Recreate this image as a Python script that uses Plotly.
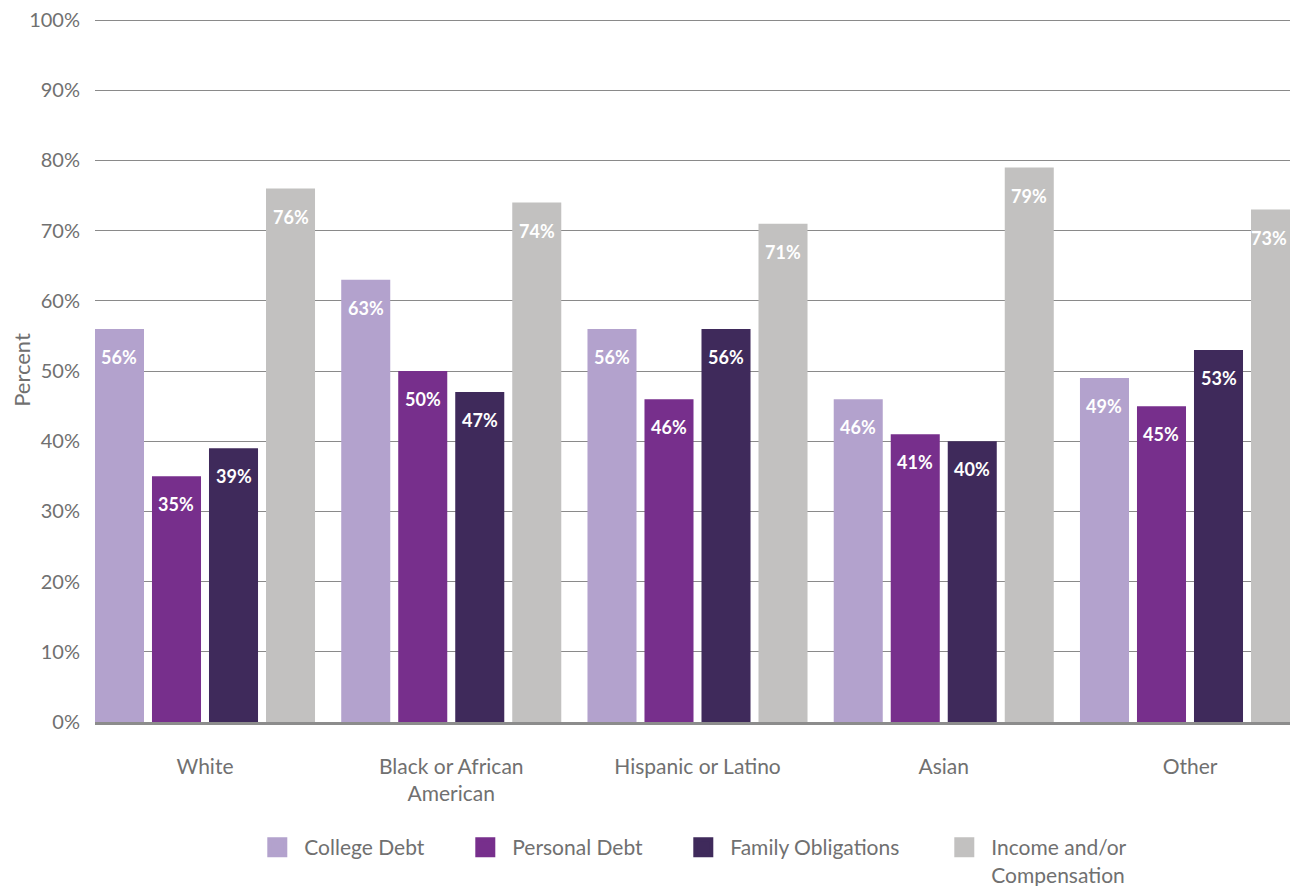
import plotly.graph_objects as go

categories = ["White", "Black or African<br>American", "Hispanic or Latino", "Asian", "Other"]
series_names = ["College Debt", "Personal Debt", "Family Obligations", "Income and/or<br>Compensation"]
college_debt = [56, 63, 56, 46, 49]
personal_debt = [35, 50, 46, 41, 45]
family_obligations = [39, 47, 56, 40, 53]
income_comp = [76, 74, 71, 79, 73]
colors = ["#b3a2cd", "#772f8c", "#3f2a5b", "#c2c1c0"]
y_ticks = list(range(0, 101, 10))

FONT = "Lato"
GRAY = "#707070"

# page has an 8px body margin, so the figure is sized to fill the 1298x894 window exactly
W, H = 1282, 878
ML, MR, MT, MB = 87, 0, 10, 164
X_RANGE = [-0.4467, 4.4061]
Y_RANGE = [0, 100.3]
BARGAP, BARGROUPGAP = 0.074, 0.14
plot_w = W - ML - MR
cat_px = plot_w / (X_RANGE[1] - X_RANGE[0])
slot_px = cat_px * (1 - BARGAP) / 4
LABEL_HALF_W = 19

ITEMWIDTH = 44
sym_off = 6.7 + ITEMWIDTH / 2
marker_centers_fig = [271, 479, 697, 958]
legend_x = [(c - sym_off - ML) / plot_w for c in marker_centers_fig]

all_series = [college_debt, personal_debt, family_obligations, income_comp]

fig = go.Figure()
annotations = []
for i, (name, vals, col) in enumerate(zip(series_names, all_series, colors)):
    fig.add_trace(go.Bar(
        x=categories, y=vals, name=name, marker_color=col, marker_line_width=0,
        showlegend=False, hoverinfo="skip",
    ))
    lg = "legend" if i == 0 else f"legend{i + 1}"
    fig.add_trace(go.Scatter(
        x=[None], y=[None], mode="markers", name=name, legend=lg,
        marker=dict(symbol="square", size=16, color=col, line=dict(color=col, width=4)),
        showlegend=True,
    ))
    for k, (c, v) in enumerate(zip(categories, vals)):
        shift = (i - 1.5) * slot_px
        # keep the label inside the plotting area when the bar is cut at the right edge
        right_px = (k - X_RANGE[0]) * cat_px + shift + LABEL_HALF_W
        if right_px > plot_w - 2:
            shift -= right_px - (plot_w - 2)
        annotations.append(dict(
            x=c, y=v, xref="x", yref="y", text=f"{v}%", showarrow=False,
            xshift=shift, yshift=-28, yanchor="middle", xanchor="center",
            font=dict(family=FONT, size=18, color="white", weight="bold"),
        ))

legend_common = dict(orientation="h", y=-0.1493, yanchor="top", xanchor="left",
                     font=dict(family=FONT, size=21, color=GRAY), itemsizing="trace",
                     itemwidth=ITEMWIDTH, valign="top", bgcolor="rgba(0,0,0,0)")
legends = {}
for i, lx in enumerate(legend_x):
    key = "legend" if i == 0 else f"legend{i + 1}"
    legends[key] = dict(legend_common, x=lx)

fig.update_layout(
    width=W, height=H,
    margin=dict(l=ML, r=MR, t=MT, b=MB, autoexpand=False),
    paper_bgcolor="white", plot_bgcolor="white",
    barmode="group", bargap=BARGAP, bargroupgap=BARGROUPGAP,
    font=dict(family=FONT, size=20, color=GRAY),
    showlegend=True,
    annotations=annotations,
    xaxis=dict(range=X_RANGE, showgrid=False, showline=True, linecolor="#8c8c8c",
               linewidth=2.5, ticks="", ticklabelstandoff=24,
               tickfont=dict(family=FONT, size=21, color=GRAY)),
    yaxis=dict(range=Y_RANGE, tickvals=y_ticks, ticktext=[f"{t}%" for t in y_ticks],
               showgrid=True, gridcolor="#8a8a8a", gridwidth=1, zeroline=False,
               ticks="", ticklabelstandoff=14, ticklabeloverflow="allow",
               tickfont=dict(family=FONT, size=20, color=GRAY),
               title=dict(text="Percent", standoff=12, font=dict(family=FONT, size=22, color=GRAY))),
    **legends,
)

fig.write_html("out.html")
